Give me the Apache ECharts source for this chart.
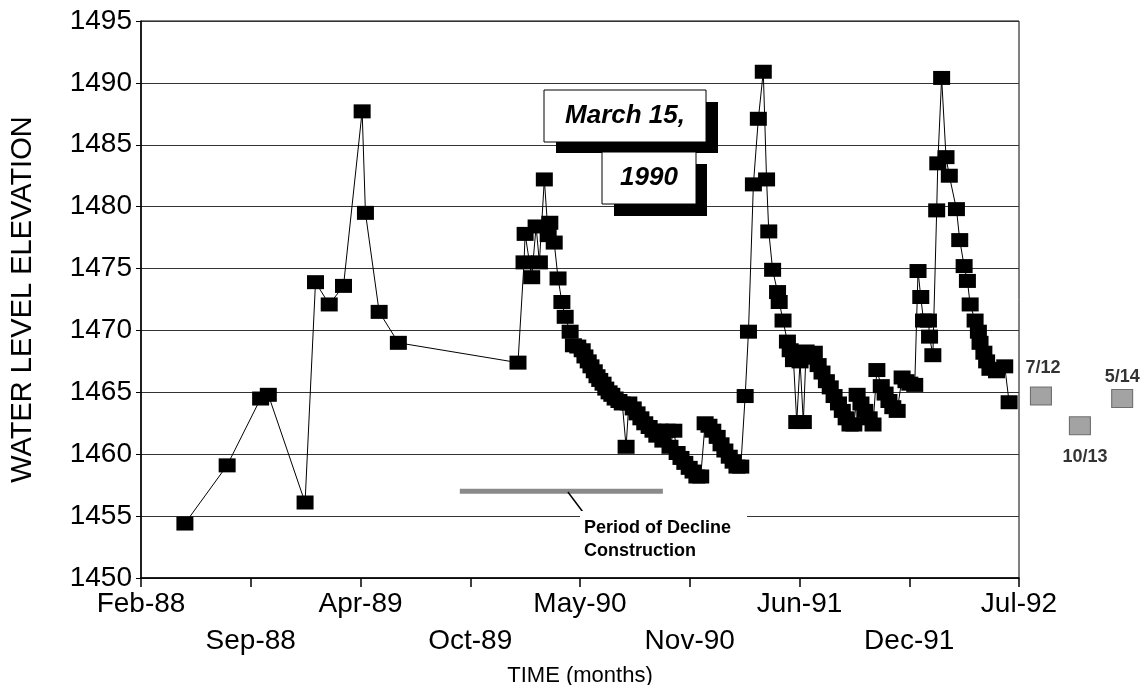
<!DOCTYPE html>
<html>
<head>
<meta charset="utf-8">
<script src="https://cdn.jsdelivr.net/npm/echarts@6/dist/echarts.min.js"></script>
<style>
  body { margin: 0; background: #fff; }
  #grafico { width: 1146px; height: 685px; }
</style>
</head>
<body>
<div id="grafico"></div>
<script>
// x values are days counted from 27 Feb 1988 (axis start), one tick every 200 days
var tickLabels = ['Feb-88', 'Sep-88', 'Apr-89', 'Oct-89', 'May-90', 'Nov-90', 'Jun-91', 'Dec-91', 'Jul-92'];

var days = [80, 157, 218, 232, 299, 318, 343, 369, 403, 409,
    434, 469, 687, 698, 700, 712, 720, 726, 735, 742,
    745, 753, 760, 767, 773, 782, 788, 796, 804, 809,
    815, 820, 826, 831, 836, 842, 847, 853, 858, 864,
    871, 877, 884, 889, 897, 904, 911, 918, 926, 933,
    940, 946, 951, 959, 964, 971, 977, 984, 991, 999,
    1006, 1013, 1020, 1028, 1035, 1042, 1050, 1057, 1064, 1072,
    1079, 1086, 1093, 1101, 1107, 1116, 1125, 1134, 1140, 1144,
    1151, 1160, 1163, 1170, 1178, 1183, 1189, 1195, 1201, 1207,
    1212, 1219, 1227, 1234, 1241, 1249, 1256, 1263, 1271, 1278,
    1285, 1292, 1299, 1305, 1312, 1319, 1327, 1334, 1341, 1349,
    1356, 1363, 1370, 1378, 1387, 1394, 1401, 1410, 1416, 1421,
    1426, 1435, 1437, 1443, 1450, 1452, 1459, 1467, 1473, 1486,
    1492, 1500, 1506, 1511, 1520, 1526, 1529, 1536, 1541, 1547,
    1559, 1574, 1582];

var levels = [1454.4, 1459.1, 1464.5, 1464.8, 1456.1, 1473.9, 1472.1, 1473.6, 1487.7, 1479.5,
    1471.5, 1469.0, 1467.4, 1475.5, 1477.8, 1474.3, 1478.4, 1475.5, 1482.2, 1477.7,
    1478.7, 1477.1, 1474.2, 1472.3, 1471.1, 1469.9, 1468.8, 1468.7, 1468.4, 1467.9,
    1467.5, 1467.1, 1466.7, 1466.3, 1466.0, 1465.7, 1465.3, 1465.0, 1464.8, 1464.5,
    1464.3, 1464.1, 1460.6, 1464.1, 1463.7, 1463.3, 1462.9, 1462.5, 1462.2, 1461.9,
    1461.5, 1461.9, 1461.1, 1461.9, 1460.6, 1461.9, 1460.1, 1459.7, 1459.3, 1458.9,
    1458.6, 1458.2, 1458.2, 1462.5, 1462.3, 1461.9, 1461.4, 1460.8, 1460.3, 1459.8,
    1459.4, 1459.0, 1459.0, 1464.7, 1469.9, 1481.8, 1487.1, 1490.9, 1482.2, 1478.0,
    1474.9, 1473.1, 1472.3, 1470.8, 1469.1, 1468.4, 1467.6, 1462.6, 1467.5, 1462.6,
    1468.3, 1467.8, 1468.2, 1467.2, 1466.6, 1465.9, 1465.4, 1464.7, 1464.1, 1463.5,
    1462.9, 1462.4, 1462.4, 1464.8, 1464.1, 1463.5, 1462.9, 1462.4, 1466.8, 1465.5,
    1464.9, 1464.3, 1463.8, 1463.5, 1466.2, 1465.9, 1465.7, 1465.6, 1474.8, 1472.7,
    1470.8, 1470.8, 1469.5, 1468.0, 1479.7, 1483.5, 1490.4, 1484.0, 1482.5, 1479.8,
    1477.3, 1475.2, 1474.0, 1472.1, 1470.8, 1469.9, 1469.0, 1468.2, 1467.5, 1466.9,
    1466.7, 1467.1, 1464.2];

// period of decline construction
var declineDays = [581, 951];
var declineLevel = 1457;
var leaderDays = [778, 805];
var leaderLevels = [1456.95, 1455.35];

// later readings drawn past the end of the axis
var laterLabels = ['7/12', '10/13', '5/14'];
var laterDays = [1640, 1711, 1788];
var laterLevels = [1464.7, 1462.3, 1464.5];

var font = 'Liberation Sans, Arial, sans-serif';

var chartDom = document.getElementById('grafico');
var myChart = echarts.init(chartDom);

var mainData = days.map(function (d, i) { return [d, levels[i]]; });
var laterData = laterDays.map(function (d, i) {
    return {
        value: [d, laterLevels[i]],
        label: {
            position: i === 1 ? 'bottom' : 'top',
            offset: i === 0 ? [2, -5] : (i === 1 ? [5, 8] : [0, 2])
        }
    };
});

var option = {
    animation: false,
    backgroundColor: '#fff',
    grid: {
        left: 141,
        right: 127,
        top: 21,
        bottom: 107,
        outerBoundsMode: 'none',
        containLabel: false,
        show: true,
        borderColor: '#000',
        borderWidth: 1
    },
    xAxis: {
        type: 'value',
        min: 0,
        max: 1600,
        interval: 200,
        name: 'TIME (months)',
        nameLocation: 'middle',
        nameGap: 82,
        nameTextStyle: { fontFamily: font, fontSize: 22, color: '#000' },
        axisLine: { lineStyle: { color: '#000', width: 1.5 } },
        axisTick: { length: 9, lineStyle: { color: '#000', width: 1.5 } },
        splitLine: { show: false },
        axisLabel: {
            fontFamily: font,
            fontSize: 28,
            lineHeight: 37,
            color: '#000',
            margin: 8,
            showMinLabel: true,
            showMaxLabel: true,
            formatter: function (v) {
                var i = Math.round(v / 200);
                var s = tickLabels[i] || '';
                return i % 2 ? '\n' + s : s;
            }
        }
    },
    yAxis: {
        type: 'value',
        min: 1450,
        max: 1495,
        interval: 5,
        name: 'WATER LEVEL ELEVATION',
        nameLocation: 'middle',
        nameGap: 104,
        nameTextStyle: { fontFamily: font, fontSize: 29, color: '#000' },
        axisLine: { show: true, lineStyle: { color: '#000', width: 1.5 } },
        axisTick: { show: true, length: 5, lineStyle: { color: '#000' } },
        splitLine: { lineStyle: { color: '#333', width: 1 } },
        axisLabel: {
            fontFamily: font,
            fontSize: 28,
            color: '#000',
            margin: 9,
            formatter: function (v) { return String(v); }
        }
    },
    series: [
        {
            type: 'line',
            data: [[declineDays[0], declineLevel], [declineDays[1], declineLevel]],
            symbol: 'none',
            lineStyle: { color: '#8a8a8a', width: 5 },
            z: 1
        },
        {
            type: 'line',
            data: [[leaderDays[0], leaderLevels[0]], [leaderDays[1], leaderLevels[1]]],
            symbol: 'none',
            lineStyle: { color: '#000', width: 1.5 },
            z: 1
        },
        {
            type: 'line',
            data: mainData,
            symbol: 'rect',
            symbolSize: [17, 14],
            showAllSymbol: true,
            clip: false,
            itemStyle: { color: '#000' },
            lineStyle: { color: '#000', width: 1 },
            z: 3
        },
        {
            type: 'scatter',
            data: laterData,
            symbol: 'rect',
            symbolSize: [21, 18],
            clip: false,
            itemStyle: { color: '#8c8c8c', borderColor: '#555', borderWidth: 1 },
            label: {
                show: true,
                fontFamily: font,
                fontSize: 18,
                fontWeight: 'bold',
                color: '#000',
                formatter: function (p) { return laterLabels[p.dataIndex]; }
            }
        }
    ],
    graphic: [
        { type: 'rect', shape: { x: 556, y: 102, width: 162, height: 51 }, style: { fill: '#000' }, z: 10 },
        { type: 'rect', shape: { x: 544, y: 90, width: 162, height: 52 }, style: { fill: '#fff', stroke: '#000', lineWidth: 1 }, z: 11 },
        { type: 'text', x: 625, y: 116, style: { text: 'March 15,', font: 'italic bold 26px ' + font, fill: '#000', align: 'center', verticalAlign: 'middle' }, z: 12 },
        { type: 'rect', shape: { x: 614, y: 164, width: 93, height: 52 }, style: { fill: '#000' }, z: 13 },
        { type: 'rect', shape: { x: 602, y: 152, width: 94, height: 52 }, style: { fill: '#fff', stroke: '#000', lineWidth: 1 }, z: 14 },
        { type: 'text', x: 649, y: 178, style: { text: '1990', font: 'italic bold 26px ' + font, fill: '#000', align: 'center', verticalAlign: 'middle' }, z: 15 },
        {
            type: 'text', x: 580, y: 511, z: 10,
            style: {
                text: 'Period of Decline\nConstruction',
                font: 'bold 18px ' + font,
                lineHeight: 23,
                fill: '#000',
                backgroundColor: '#fff',
                padding: [6, 16, 4, 4]
            }
        }
    ]
};

myChart.setOption(option);
</script>
</body>
</html>
